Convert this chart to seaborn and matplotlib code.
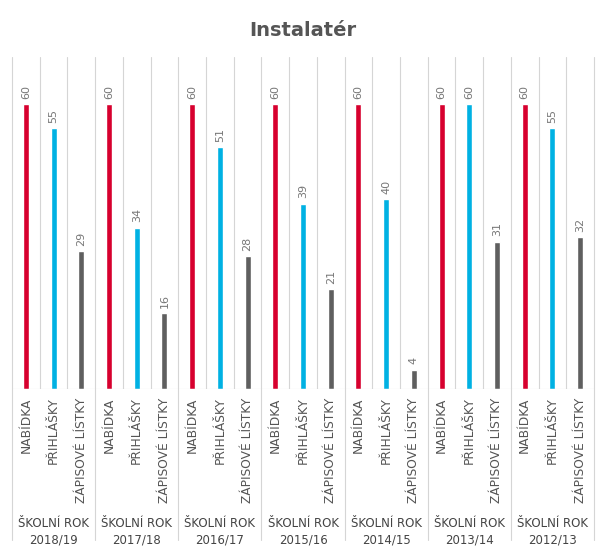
import matplotlib.pyplot as plt
import matplotlib.transforms as mtransforms
import pandas as pd
import seaborn as sns
import numpy as np

years = ['2018/19', '2017/18', '2016/17', '2015/16', '2014/15', '2013/14', '2012/13']
nabidka = [60, 60, 60, 60, 60, 60, 60]
prihlasky = [55, 34, 51, 39, 40, 60, 55]
zapisove = [29, 16, 28, 21, 4, 31, 32]
kinds = ['NABÍDKA', 'PŘIHLÁŠKY', 'ZÁPISOVÉ LÍSTKY']
colors = ['#d7002e', '#00b1e3', '#5f5f5f']

rows = []
for i, y in enumerate(years):
    for k, v in zip(kinds, [nabidka[i], prihlasky[i], zapisove[i]]):
        rows.append({'year': y, 'kind': k, 'value': v})
data = pd.DataFrame(rows)

sns.set_style('white')
plt.rcParams['font.family'] = ['DejaVu Sans']

fig = plt.figure(figsize=(6.05, 5.53), dpi=100)
ax = fig.add_axes([12 / 605, 1 - 389 / 553, 582 / 605, 332 / 553])

sns.barplot(data=data, x='year', y='value', hue='kind', palette=colors,
            width=1.0, gap=0.78, ax=ax, legend=False, saturation=1)

for c in ax.containers:
    ax.bar_label(c, rotation=90, padding=4, color='#777777', fontsize=8)

ax.set_xlim(-0.5, len(years) - 0.5)
ax.set_ylim(0, 70)
ax.set_yticks([])
ax.set_xlabel('')
ax.set_ylabel('')
for s in ax.spines.values():
    s.set_visible(False)
ax.axhline(0, color='#d8d8d8', lw=0.8)

trans = mtransforms.blended_transform_factory(ax.transData, ax.transAxes)
offsets = [-1 / 3, 0, 1 / 3]
ticks, labels = [], []
for i in range(len(years)):
    for o, k in zip(offsets, kinds):
        ticks.append(i + o)
        labels.append(k)
ax.set_xticks(ticks)
ax.set_xticklabels(labels, rotation=90, fontsize=8.8, color='#555555')
ax.tick_params(axis='x', length=0, pad=6)

for i in range(len(years) + 1):
    b = i - 0.5
    ax.plot([b, b], [-0.456, 1.0], transform=trans, color='#d5d5d5', lw=0.8, clip_on=False)
    if i < len(years):
        for sub in [b + 1 / 3, b + 2 / 3]:
            ax.axvline(sub, color='#d5d5d5', lw=0.8)

for i, y in enumerate(years):
    ax.text(i, -0.385, 'ŠKOLNÍ ROK\n' + y, transform=trans, ha='center', va='top',
            fontsize=8.5, color='#444444', linespacing=1.35)

fig.text(0.5, 1 - 30 / 553, 'Instalatér', ha='center', va='center',
         fontsize=14, fontweight='bold', color='#555555')

fig.savefig('out.png', dpi=100)
